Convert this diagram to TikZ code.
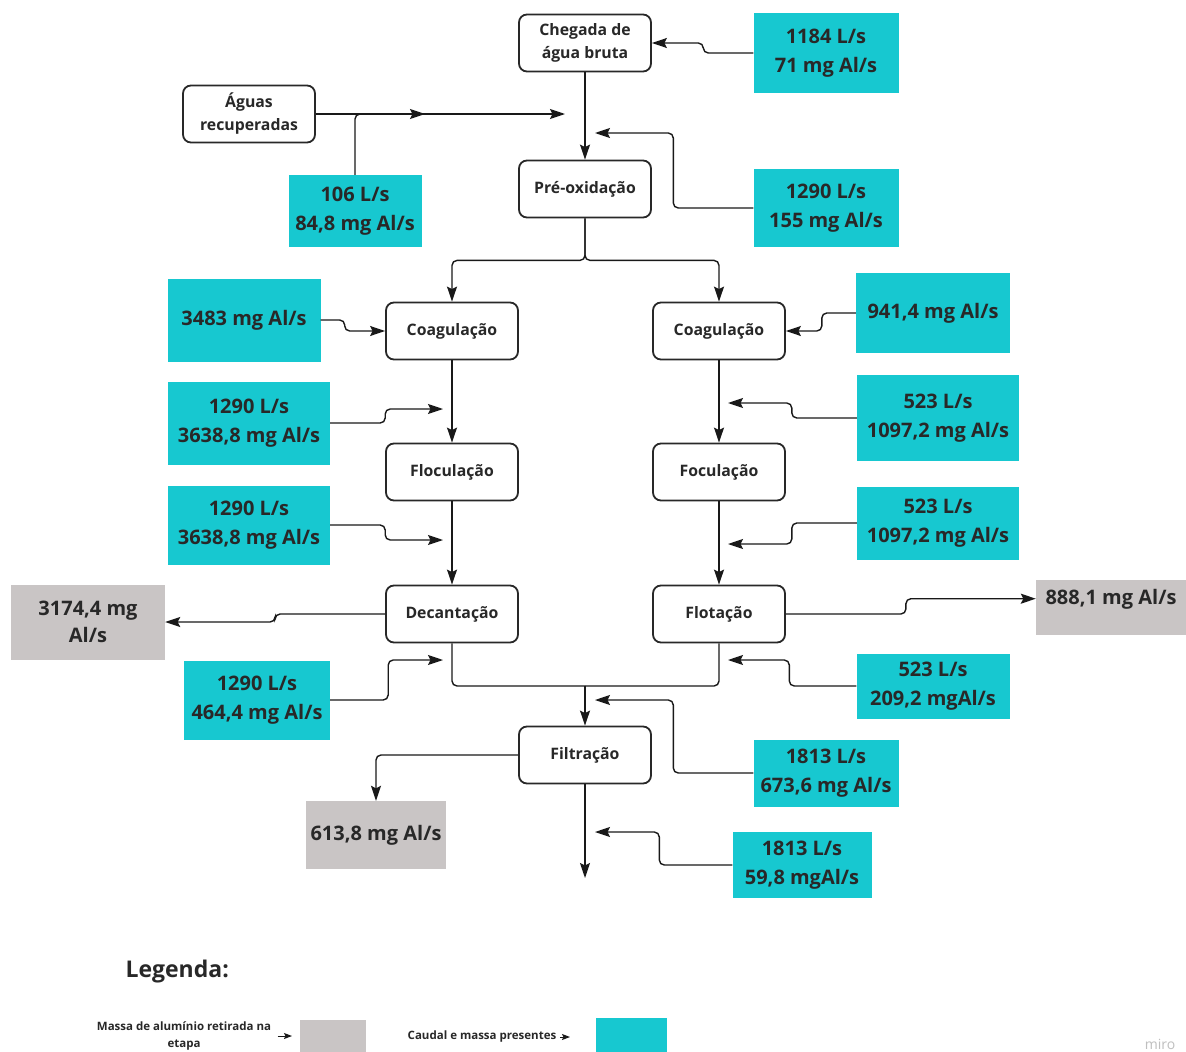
\documentclass[tikz,border=0pt]{standalone}
\usepackage{fontspec}
\setmainfont{Open Sans}
\usetikzlibrary{arrows.meta}
\definecolor{flowcyan}{RGB}{23,200,208}
\definecolor{remgrey}{RGB}{201,197,197}
\definecolor{inkgrey}{RGB}{40,40,40}
\definecolor{wiregrey}{RGB}{25,25,25}
\tikzset{
  stage/.style={draw=inkgrey, line width=1.8pt, rounded corners=8pt, fill=white,
    minimum width=132pt, minimum height=57pt, align=center, text=inkgrey,
    font=\fontsize{15.8}{23}\selectfont\bfseries},
  flow/.style={fill=flowcyan, align=center, inner sep=0pt, text=inkgrey,
    font=\fontsize{20}{29}\selectfont\bfseries},
  rem/.style={fill=remgrey, align=center, inner sep=0pt, text=inkgrey,
    font=\fontsize{20}{27}\selectfont\bfseries},
  link/.style={draw=wiregrey, line width=1.4pt, rounded corners=5pt},
  feed/.style={link, -{Stealth[length=15pt,width=10pt,inset=2.5pt]}},
  legarrow/.style={draw=wiregrey, line width=1pt, -{Stealth[length=8pt,width=6pt,inset=1.5pt]}},
}
\begin{document}
\begin{tikzpicture}[x=1pt, y=-1pt]
  \fill[white] (0,0) rectangle (1186,1052);
  \useasboundingbox (0,0) rectangle (1186,1052);

  \node[stage] (chegada) at (585,43) {Chegada de\\água bruta};
  \node[stage] (aguas) at (249,114) {Águas\\recuperadas};
  \node[stage] (preox) at (585,189) {Pré-oxidação};
  \node[flow, minimum width=145, minimum height=80] (q1184) at (826,53) {1184 L/s\\71 mg Al/s};
  \node[flow, minimum width=133, minimum height=72] (q106) at (355,211) {106 L/s\\84,8 mg Al/s};
  \node[flow, minimum width=145, minimum height=78] (q155) at (826,208) {1290 L/s\\155 mg Al/s};
  \coordinate (jAguas) at (565,114);
  \coordinate (j106) at (425,114);
  \coordinate (jPre) at (595,133);
  \draw[feed] (q1184.west) -- ++(-50,0) |- (chegada.east);
  \draw[feed] (chegada) -- (preox);
  \draw[feed] (aguas.east) -- (jAguas);
  \draw[feed] (q106.north) |- (j106);
  \draw[feed] (q155.west) -- ++(-80,0) |- (jPre);

  \node[stage] (coagL) at (452,331) {Coagulação};
  \node[stage] (coagR) at (719,331) {Coagulação};
  \node[flow, minimum width=153, minimum height=83] (q3483) at (244,320) {3483 mg Al/s};
  \node[flow, minimum width=154, minimum height=80] (q941) at (933,313) {941,4 mg Al/s};
  \draw[feed] (preox.south) -- ++(0,42) -| (coagL.north);
  \draw[feed] (preox.south) -- ++(0,42) -| (coagR.north);
  \draw[feed] (q3483.east) -- ++(24,0) |- (coagL.west);
  \draw[feed] (q941.west) -- ++(-34,0) |- (coagR.east);

  \node[stage] (flocL) at (452,472) {Floculação};
  \node[stage] (flocR) at (719,472) {Foculação};
  \node[flow, minimum width=162, minimum height=83] (qL1) at (249,423) {1290 L/s\\3638,8 mg Al/s};
  \node[flow, minimum width=162, minimum height=86] (qR1) at (938,418) {523 L/s\\1097,2 mg Al/s};
  \coordinate (jFlocL) at (443,409);
  \coordinate (jFlocR) at (728,403);
  \draw[feed] (coagL) -- (flocL);
  \draw[feed] (coagR) -- (flocR);
  \draw[feed] (qL1.east) -- ++(55,0) |- (jFlocL);
  \draw[feed] (qR1.west) -- ++(-65,0) |- (jFlocR);

  \node[stage] (decant) at (452,614) {Decantação};
  \node[stage] (flotac) at (719,614) {Flotação};
  \node[flow, minimum width=162, minimum height=79] (qL2) at (249,525) {1290 L/s\\3638,8 mg Al/s};
  \node[flow, minimum width=162, minimum height=73] (qR2) at (938,523) {523 L/s\\1097,2 mg Al/s};
  \node[rem, minimum width=154, minimum height=75] (rDec) at (88,622) {3174,4 mg\\Al/s};
  \node[rem, minimum width=150, anchor=north, inner ysep=6pt, text height=18pt, text depth=25pt] (rFlot) at (1111,580) {888,1 mg Al/s};
  \coordinate (jDecL) at (443,540);
  \coordinate (jFlotR) at (728,544);
  \draw[feed] (flocL) -- (decant);
  \draw[feed] (flocR) -- (flotac);
  \draw[feed] (qL2.east) -- ++(55,0) |- (jDecL);
  \draw[feed] (qR2.west) -- ++(-65,0) |- (jFlotR);
  \draw[feed] (decant.west) -- ++(-110,0) |- (rDec.east);
  \draw[feed] (flotac.east) -- ++(120,0) |- ([yshift=9pt]rFlot.west);

  \node[stage] (filtr) at (585,755) {Filtração};
  \node[flow, minimum width=146, minimum height=79] (qL3) at (257,700) {1290 L/s\\464,4 mg Al/s};
  \node[flow, minimum width=153, minimum height=65] (qR3) at (933,686) {523 L/s\\209,2 mgAl/s};
  \node[flow, minimum width=145, minimum height=67] (qF1) at (826,773) {1813 L/s\\673,6 mg Al/s};
  \node[flow, minimum width=139, minimum height=66] (qF2) at (802,865) {1813 L/s\\59,8 mgAl/s};
  \node[rem, minimum width=140, minimum height=68] (rFil) at (376,835) {613,8 mg Al/s};
  \coordinate (jOutL) at (443,660);
  \coordinate (jOutR) at (728,660);
  \coordinate (jMerge) at (585,686);
  \coordinate (jFil) at (595,700);
  \coordinate (jEnd) at (595,832);
  \coordinate (jOut) at (585,878);
  \draw[feed] (qL3.east) -- ++(58,0) |- (jOutL);
  \draw[feed] (qR3.west) -- ++(-67,0) |- (jOutR);
  \draw[link] (decant.south) |- (jMerge);
  \draw[link] (flotac.south) |- (jMerge);
  \draw[feed] (jMerge) -- (filtr.north);
  \draw[feed] (qF1.west) -- ++(-80,0) |- (jFil);
  \draw[feed] (filtr.west) -| (rFil.north);
  \draw[feed] (filtr.south) -- (jOut);
  \draw[feed] (qF2.west) -- ++(-73,0) |- (jEnd);

  % legenda
  \node[anchor=west, text=inkgrey, font=\fontsize{23}{27}\selectfont\bfseries] (legTitle) at (122,972) {Legenda:};
  \node[align=center, text=inkgrey, font=\fontsize{11.5}{17}\selectfont\bfseries] (legRem) at (184,1036) {Massa de alumínio retirada na\\etapa};
  \node[fill=remgrey, inner sep=0pt, minimum width=66, minimum height=40, anchor=north west] (keyRem) at (300,1020) {};
  \node[text=inkgrey, font=\fontsize{11.5}{13}\selectfont\bfseries] (legFlow) at (482,1037) {Caudal e massa presentes};
  \node[fill=flowcyan, inner sep=0pt, minimum width=71, minimum height=40, anchor=north west] (keyFlow) at (596,1018) {};
  \draw[legarrow, shorten <=3pt, shorten >=8pt] (legRem.east) -- (legRem.east -| keyRem.west);
  \draw[legarrow, shorten <=0pt, shorten >=26pt] (legFlow.east) -- (legFlow.east -| keyFlow.west);
  \node[text=black!25, font=\fontsize{14}{16}\selectfont] (miro) at (1160,1044) {miro};
\end{tikzpicture}
\end{document}
